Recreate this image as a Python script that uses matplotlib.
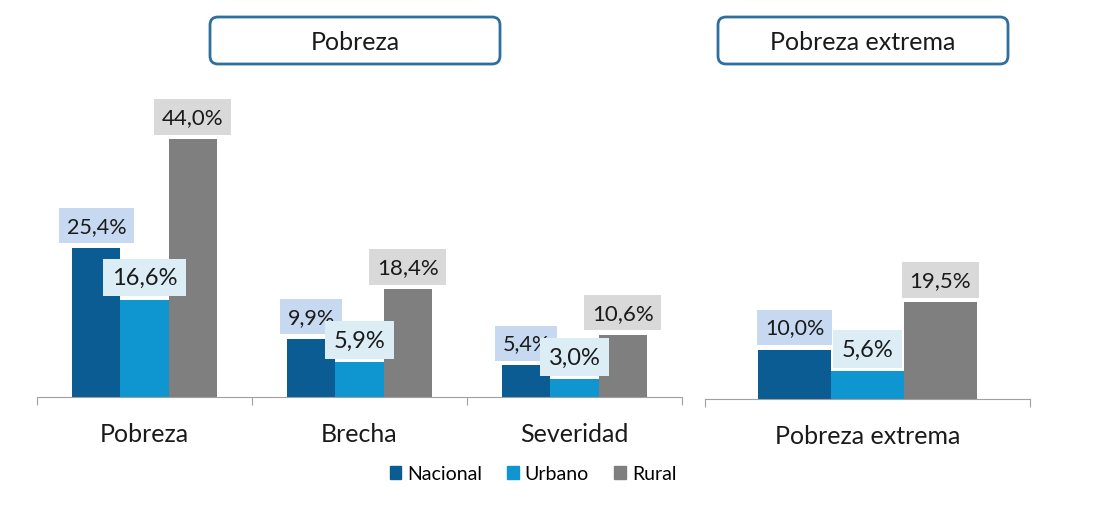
import matplotlib.pyplot as plt
from matplotlib.patches import FancyBboxPatch, Patch
from matplotlib.transforms import IdentityTransform

plt.rcParams['font.family'] = ['Lato', 'DejaVu Sans']

# datos
categorias = ['Pobreza', 'Brecha', 'Severidad']
nacional = [25.4, 9.9, 5.4]
urbano = [16.6, 5.9, 3.0]
rural = [44.0, 18.4, 10.6]

cat_extrema = ['Pobreza extrema']
ext_nacional = [10.0]
ext_urbano = [5.6]
ext_rural = [19.5]

series = ['Nacional', 'Urbano', 'Rural']
colores = ['#0b5c92', '#0f95d0', '#7f7f7f']
fondos = ['#c6d9f0', '#dcedf5', '#d9d9d9']
tam_etiqueta = [15.5, 17, 16]

W, H = 1099, 510
fig = plt.figure(figsize=(W / 100, H / 100), dpi=100)

ax1 = fig.add_axes([37 / W, 112 / H, 645 / W, 293 / H])
ax2 = fig.add_axes([705 / W, 110 / H, 325 / W, 247.5 / H])

w = 0.224


def dibujar(ax, cats, vals):
    x = list(range(len(cats)))
    for k, (v, c, f) in enumerate(zip(vals, colores, fondos)):
        pos = [i + (k - 1) * w for i in x]
        ax.bar(pos, v, width=w, color=c, label=series[k])
        for p, val in zip(pos, v):
            ax.annotate(f'{val:.1f}%'.replace('.', ','), (p, val),
                        xytext=(0, 16), textcoords='offset points',
                        ha='center', va='center', fontsize=tam_etiqueta[k],
                        color='#1a1a1a',
                        bbox=dict(boxstyle='square,pad=0.35', fc=f, ec='none'))
    ax.set_xlim(-0.5, len(cats) - 0.5)
    ax.set_ylim(0, 50)
    for s in ['top', 'left', 'right']:
        ax.spines[s].set_visible(False)
    ax.spines['bottom'].set_color('#a0a0a0')
    ax.set_yticks([])
    ax.set_xticks([i - 0.5 for i in range(len(cats) + 1)])
    ax.set_xticklabels([])
    ax.tick_params(axis='x', which='major', length=6, color='#a0a0a0')
    ax.set_xticks(x, minor=True)
    ax.set_xticklabels(cats, minor=True, fontsize=18, color='#1a1a1a')
    ax.tick_params(axis='x', which='minor', length=0, pad=18)


dibujar(ax1, categorias, [nacional, urbano, rural])
dibujar(ax2, cat_extrema, [ext_nacional, ext_urbano, ext_rural])

# cajas de titulo
for x0, titulo in [(210, 'Pobreza'), (718, 'Pobreza extrema')]:
    caja = FancyBboxPatch((x0, H - 65), 290, 47,
                          boxstyle='round,pad=0,rounding_size=8',
                          transform=IdentityTransform(),
                          fc='white', ec='#2e6f9e', lw=2)
    fig.add_artist(caja)
    fig.text((x0 + 145) / W, 1 - 42 / H, titulo, ha='center', va='center',
             fontsize=18, color='#1a1a1a')

handles = [Patch(color=c) for c in colores]
fig.legend(handles, series, loc='center', bbox_to_anchor=(533 / W, 1 - 475 / H),
           ncol=3, frameon=False, fontsize=14, handlelength=0.6, handleheight=0.6,
           handletextpad=0.3, columnspacing=1.3)

fig.savefig('out.png', dpi=100)
